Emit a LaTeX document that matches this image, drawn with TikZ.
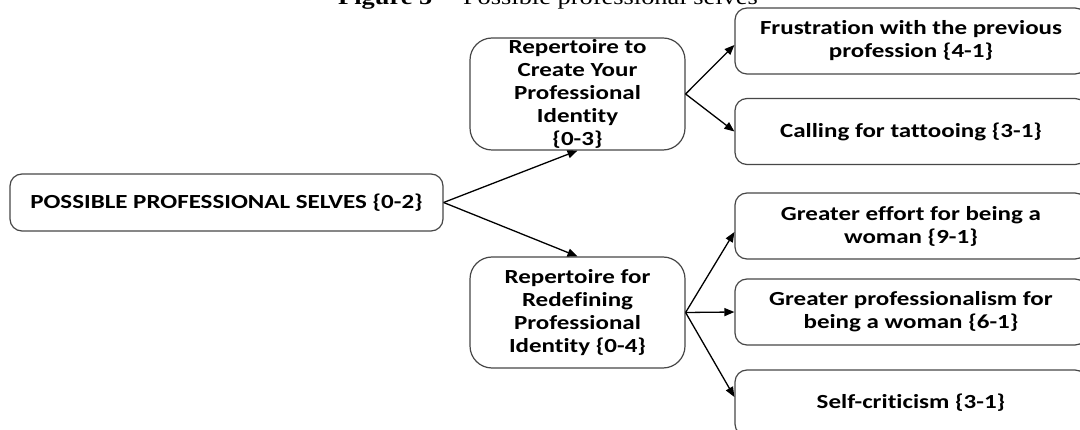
\documentclass[tikz,border=0pt]{standalone}
\usepackage{fontspec}
\usetikzlibrary{arrows.meta}
\newfontfamily\boxfont{Carlito}[FakeStretch=1.25, Ligatures=NoCommon]
\newfontfamily\captionfont{Liberation Serif}[FakeStretch=1.2]
\begin{document}
\begin{tikzpicture}[x=1pt,y=-1pt,
  box/.style={draw=black!72, line width=1.2pt, fill=white, align=center,
    inner sep=0pt, font=\boxfont\bfseries\fontsize{20}{23}\selectfont},
  link/.style={draw=black, line width=1.3pt,
    -{Triangle[length=10pt,width=8pt]}}]
  \useasboundingbox[fill=white] (0,0) rectangle (1080,430);

  % caption, partly above the page edge
  \node[anchor=base, inner sep=0pt, font=\captionfont\fontsize{22}{26}\selectfont]
    (caption) at (548,5) {\textbf{Figure 5} -- Possible professional selves};

  % root
  \node[box, rounded corners=12pt, minimum width=433pt, minimum height=57pt]
    (root) at (226.5,202.5) {POSSIBLE PROFESSIONAL SELVES \{0-2\}};

  % second level
  \node[box, rounded corners=22pt, minimum width=215pt, minimum height=112pt]
    (create) at (577.5,94) {Repertoire to\\Create Your\\Professional\\Identity\\\{0-3\}};
  \node[box, rounded corners=22pt, minimum width=215pt, minimum height=111pt]
    (redef) at (577.5,312.5) {Repertoire for\\Redefining\\Professional\\Identity \{0-4\}};

  % third level
  \tikzset{leaf/.style={box, rounded corners=12pt, minimum width=352pt, minimum height=66pt}}
  \node[leaf] (frus) at (911,41) {Frustration with the previous\\profession \{4-1\}};
  \node[leaf] (call) at (911,131.5) {Calling for tattooing \{3-1\}};
  \node[leaf] (effort) at (911,226) {Greater effort for being a\\woman \{9-1\}};
  \node[leaf] (prof) at (911,312) {Greater professionalism for\\being a woman \{6-1\}};
  \node[leaf] (crit) at (911,403) {Self-criticism \{3-1\}};

  % connectors
  \draw[link] (root.east) -- (create.south);
  \draw[link] (root.east) -- (redef.north);
  \draw[link] (create.east) -- ([yshift=-4pt]frus.west);
  \draw[link] (create.east) -- (call.west);
  \draw[link] (redef.east) -- ([yshift=-6pt]effort.west);
  \draw[link] (redef.east) -- (prof.west);
  \draw[link] (redef.east) -- ([yshift=6pt]crit.west);
\end{tikzpicture}
\end{document}
